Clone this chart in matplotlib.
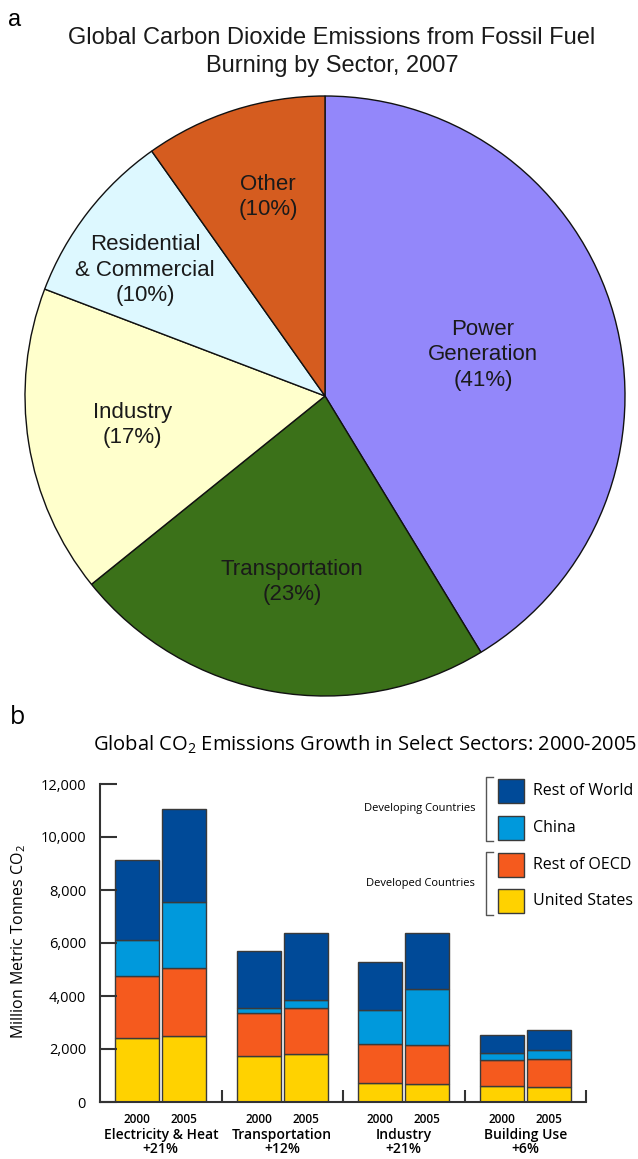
import matplotlib
matplotlib.use("Agg")
import matplotlib.pyplot as plt
from matplotlib.patches import Rectangle
from matplotlib.lines import Line2D

# (a) pie: share of CO2 from fossil fuel burning by sector, 2007
pie_sectors = ["Power\nGeneration", "Transportation", "Industry",
               "Residential\n& Commercial", "Other"]
pie_labels = ["(41%)", "(23%)", "(17%)", "(10%)", "(10%)"]
pie_shares = [41.3, 22.9, 16.6, 9.4, 9.8]
pie_colors = ["#9387fa", "#3b7119", "#ffffcc", "#ddf8ff", "#d55c1f"]

# (b) stacked bars, million metric tonnes CO2
sectors = ["Electricity & Heat", "Transportation", "Industry", "Building Use"]
growth = ["+21%", "+12%", "+21%", "+6%"]
years = ["2000", "2005"]
us_2000 = [2410, 1720, 700, 590]
us_2005 = [2490, 1820, 690, 565]
oecd_2000 = [2350, 1620, 1500, 1010]
oecd_2005 = [2560, 1710, 1450, 1055]
china_2000 = [1360, 220, 1280, 260]
china_2005 = [2500, 330, 2120, 350]
row_2000 = [3010, 2120, 1790, 680]
row_2005 = [3510, 2500, 2100, 730]
regions = ["United States", "Rest of OECD", "China", "Rest of World"]
region_colors = ["#ffd200", "#f55a1e", "#0099dc", "#004a98"]

W, H = 638, 1159
plt.rcParams["mathtext.fontset"] = "custom"
plt.rcParams["mathtext.rm"] = "Open Sans"
fig = plt.figure(figsize=(W / 100, H / 100), dpi=100)


def fx(x):
    return x / W


def fy(y):
    return 1 - y / H


# ---- panel a ----
ax = fig.add_axes([fx(25), fy(696), 600 / W, 600 / H])
ax.pie(pie_shares, colors=pie_colors, startangle=90, counterclock=False,
       wedgeprops=dict(edgecolor="#111111", linewidth=1.0))
ax.set_xlim(-1, 1)
ax.set_ylim(-1, 1)
ax.axis("off")

label_pos = [(0.527, 0.137), (-0.11, -0.62), (-0.643, -0.097),
             (-0.60, 0.42), (-0.19, 0.663)]
for (x, y), name, pct in zip(label_pos, pie_sectors, pie_labels):
    ax.text(x, y, name + "\n" + pct, ha="center", va="center",
            fontsize=16, family="Liberation Sans", color="#1a1a1a",
            linespacing=1.3)

fig.text(fx(15), fy(20), "a", fontsize=17, family="Liberation Sans",
         ha="center", va="center")
fig.text(fx(332), fy(52),
         "Global Carbon Dioxide Emissions from Fossil Fuel\nBurning by Sector, 2007",
         fontsize=17, family="Liberation Sans", ha="center", va="center",
         linespacing=1.35, color="#1a1a1a")

# ---- panel b ----
bx = fig.add_axes([fx(100), fy(1102), 486 / W, 318 / H])
off = 0.193
bw = 0.362
pos = range(len(sectors))
for year_vals, sign in [((us_2000, oecd_2000, china_2000, row_2000), -1),
                        ((us_2005, oecd_2005, china_2005, row_2005), 1)]:
    bottom = [0, 0, 0, 0]
    xs = [p + sign * off for p in pos]
    for vals, col in zip(year_vals, region_colors):
        bx.bar(xs, vals, bw, bottom=bottom, color=col,
               edgecolor="#3a3a3a", linewidth=1.0)
        bottom = [b + v for b, v in zip(bottom, vals)]

bx.set_xlim(-0.5, 3.5)
bx.set_ylim(0, 12000)
bx.set_yticks(range(0, 12001, 2000))
bx.set_yticklabels([f"{v:,}" for v in range(0, 12001, 2000)],
                   family="Open Sans", fontsize=10.5)
bx.tick_params(axis="y", direction="in", length=12, width=1.5,
               color="#333333", pad=10)
bx.set_xticks([p + s * off for p in pos for s in (-1, 1)])
bx.set_xticklabels(years * len(sectors), family="Open Sans",
                   fontsize=8.5, fontweight="semibold")
bx.tick_params(axis="x", length=0, pad=8)
bx.set_xticks([0.5, 1.5, 2.5, 3.5], minor=True)
bx.tick_params(axis="x", which="minor", direction="in", length=9,
               width=1.5, color="#333333")
for side in ["top", "right"]:
    bx.spines[side].set_visible(False)
for side in ["left", "bottom"]:
    bx.spines[side].set_color("#333333")
    bx.spines[side].set_linewidth(1.5)
bx.set_ylabel("Million Metric Tonnes CO$_\\mathregular{2}$",
              family="Open Sans", fontsize=11.5, labelpad=6)
bx.yaxis.set_label_coords(-(100 - 28) / 486, (1102 - 942) / 318)

for p, name, g in zip(pos, sectors, growth):
    bx.text(p, -26 / 318, name + "\n" + g, transform=bx.get_xaxis_transform(),
            ha="center", va="top", family="Open Sans", fontsize=10,
            fontweight="semibold", linespacing=1.0)

fig.text(fx(18), fy(718), "b", fontsize=18, family="Open Sans",
         ha="center", va="center")
fig.text(fx(365), fy(745),
         "Global CO$_\\mathregular{2}$ Emissions Growth in Select Sectors: 2000-2005",
         fontsize=14.5, family="Open Sans", ha="center", va="center")

# legend drawn by hand, top-down: RoW, China, OECD, US
legend_y = [779, 816, 853, 889]
for y, name, col in zip(legend_y, regions[::-1], region_colors[::-1]):
    fig.add_artist(Rectangle((fx(498), fy(y + 24)), 26 / W, 24 / H,
                             transform=fig.transFigure, facecolor=col,
                             edgecolor="#3a3a3a", linewidth=1.0))
    fig.text(fx(533), fy(y + 12), name, family="Open Sans", fontsize=11.5,
             va="center", ha="left")

for top, bot, label in [(777, 841, "Developing Countries"),
                        (852, 915, "Developed Countries")]:
    fig.add_artist(Line2D([fx(493), fx(486), fx(486), fx(493)],
                          [fy(top), fy(top), fy(bot), fy(bot)],
                          transform=fig.transFigure, color="#555555",
                          linewidth=1.0))
    fig.text(fx(475), fy((top + bot) / 2), label, family="Open Sans",
             fontsize=8, ha="right", va="center")

fig.savefig("out.png", dpi=100)
